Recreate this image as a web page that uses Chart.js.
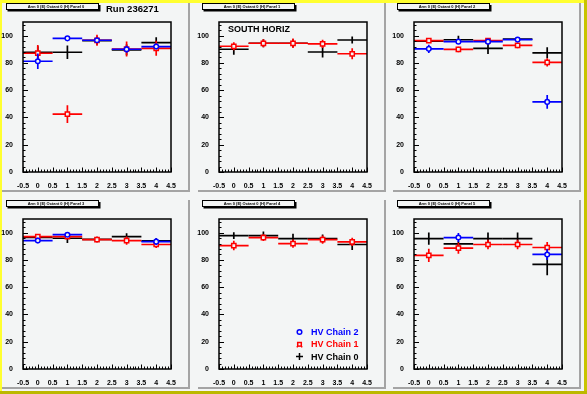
<!DOCTYPE html>
<html>
<head>
<meta charset="utf-8">
<script src="https://cdn.jsdelivr.net/npm/chart.js@4.4.0/dist/chart.umd.min.js"></script>
<style>
  body { margin: 0; background: #f3f5f5; }
  #frame { position: relative; width: 587px; height: 394px; background: #f3f5f5; overflow: hidden; }
  .strip { position: absolute; }
  .pad { position: absolute; box-sizing: content-box; width: 186px; height: 187px;
         border-right: 2px solid #a4a4a4; border-bottom: 2px solid #a4a4a4; background: #f3f5f5; }
  canvas { position: absolute; }
</style>
</head>
<body>
<div id="frame">
  <div class="strip" style="left:0;top:0;width:587px;height:3px;background:#ffff30"></div>
  <div class="strip" style="left:0;top:0;width:2px;height:394px;background:#ffff30"></div>
  <div class="strip" style="left:584px;top:0;width:3px;height:394px;background:#c8c400"></div>
  <div class="strip" style="left:0;top:391px;width:587px;height:3px;background:#bcb800"></div>
</div>
<script>
// bins and axis ticks
const binCenters = [0, 1, 2, 3, 4];
const xRange = [-0.5, 4.5];
const yRange = [0, 110];
const xTickStep = 0.5;
const yTickStep = 20;

const panelTitles = [
  'Arm 0 (E) Octant 0 (H) Panel 0',
  'Arm 0 (E) Octant 0 (H) Panel 1',
  'Arm 0 (E) Octant 0 (H) Panel 2',
  'Arm 0 (E) Octant 0 (H) Panel 3',
  'Arm 0 (E) Octant 0 (H) Panel 4',
  'Arm 0 (E) Octant 0 (H) Panel 5'
];
const runLabel = 'Run 236271';
const sideLabel = 'SOUTH HORIZ';
const seriesNames = ['HV Chain 2', 'HV Chain 1', 'HV Chain 0'];

// one row per panel, one value per bin (null = no point)
const chain0Values = [
  [87.8, 87.8, 96.3, 89.6, 94.9],
  [90.0, 94.4, 94.4, 88.0, 96.8],
  [95.9, 97.0, 90.6, 97.4, 87.4],
  [96.5, 95.9, 95.0, 97.1, 93.9],
  [97.8, 97.8, 95.6, 95.6, 91.3],
  [95.6, 91.7, 95.6, 95.6, 76.7]
];
const chain0Errors = [
  [4.5, 5.0, 3.0, 4.0, 4.0],
  [4.0, 3.0, 3.0, 4.0, 2.5],
  [1.0, 3.0, 4.0, 1.5, 4.0],
  [2.5, 3.5, 2.0, 2.5, 2.0],
  [2.5, 3.0, 3.5, 3.0, 4.0],
  [4.5, 2.0, 4.5, 4.5, 8.0]
];
const chain1Values = [
  [87.1, 42.4, 96.6, 90.2, 90.7],
  [92.2, 94.4, 94.4, 94.0, 86.7],
  [96.4, 89.9, 96.4, 92.8, 80.4],
  [97.1, 97.1, 94.9, 94.2, 91.3],
  [90.5, 96.4, 92.0, 94.9, 93.2],
  [83.3, 88.6, 91.3, 91.3, 89.1]
];
const chain1Errors = [
  [6.0, 6.5, 4.0, 5.5, 5.5],
  [3.0, 3.0, 3.5, 3.0, 4.0],
  [1.5, 2.0, 1.5, 2.0, 3.0],
  [1.5, 1.5, 2.0, 3.0, 2.5],
  [3.5, 2.5, 3.0, 3.0, 3.0],
  [4.8, 4.0, 3.5, 3.5, 4.0]
];
const chain2Values = [
  [81.2, 98.0, 96.6, 90.0, 92.0],
  [null, null, null, null, null],
  [90.3, 95.6, 95.6, 97.1, 51.4],
  [94.2, 98.5, null, null, 93.4],
  [null, null, null, null, null],
  [null, 96.4, null, null, 84.0]
];
const chain2Errors = [
  [5.7, 1.5, 1.5, 2.5, 2.0],
  [0, 0, 0, 0, 0],
  [3.0, 1.5, 2.0, 1.0, 5.0],
  [2.0, 1.0, 0, 0, 2.5],
  [0, 0, 0, 0, 0],
  [0, 3.3, 0, 0, 4.0]
];

const FONT = '"Liberation Sans", Arial, Helvetica, sans-serif';
const BG = '#f3f5f5';
const colors = ['#0000ff', '#ff0000', '#000000'];

function toPoints(values, errors) {
  return binCenters
    .map((x, i) => ({ x: x, y: values[i], err: errors[i] }))
    .filter(p => p.y !== null);
}

// horizontal bin width + vertical error, drawn under each dataset's markers
const errorBars = {
  id: 'errorBars',
  beforeDatasetDraw(chart, args) {
    const ds = chart.data.datasets[args.index];
    const { ctx, chartArea, scales: { x, y } } = chart;
    ctx.save();
    ctx.beginPath();
    ctx.rect(chartArea.left, chartArea.top, chartArea.width, chartArea.height);
    ctx.clip();
    ctx.strokeStyle = ds.borderColor;
    ctx.lineWidth = 1.7;
    ds.data.forEach(p => {
      const px = x.getPixelForValue(p.x);
      const py = y.getPixelForValue(p.y);
      ctx.beginPath();
      ctx.moveTo(x.getPixelForValue(p.x - 0.5), py);
      ctx.lineTo(x.getPixelForValue(p.x + 0.5), py);
      if (p.err > 0) {
        ctx.moveTo(px, y.getPixelForValue(p.y - p.err));
        ctx.lineTo(px, y.getPixelForValue(p.y + p.err));
      }
      ctx.stroke();
    });
    ctx.restore();
  }
};

// ROOT style frame with inward ticks, title box, extra labels and legend
const padDecor = {
  id: 'padDecor',
  afterDraw(chart, args, opts) {
    const { ctx, chartArea: a, scales: { x, y } } = chart;
    ctx.save();
    ctx.strokeStyle = '#000';
    ctx.lineWidth = 1.5;
    ctx.strokeRect(a.left, a.top, a.width, a.height);

    ctx.lineWidth = 1;
    ctx.beginPath();
    for (let i = 0; i <= 27; i++) {
      const py = Math.round(y.getPixelForValue(i * 4)) + 0.5;
      const len = i % 5 === 0 ? 5 : 2.5;
      ctx.moveTo(a.left, py);
      ctx.lineTo(a.left + len, py);
    }
    for (let i = 0; i <= 50; i++) {
      const px = Math.round(x.getPixelForValue(xRange[0] + i * 0.1)) + 0.5;
      const len = i % 5 === 0 ? 4.5 : 2.5;
      ctx.moveTo(px, a.bottom);
      ctx.lineTo(px, a.bottom - len);
    }
    ctx.stroke();

    // title box with shadow
    ctx.fillStyle = '#000';
    ctx.fillRect(7.5, 5, 93, 6.5);
    ctx.fillStyle = BG;
    ctx.fillRect(6, 3.5, 93, 6.5);
    ctx.lineWidth = 1;
    ctx.strokeRect(6.5, 3.5, 92, 6);
    ctx.fillStyle = '#000';
    ctx.font = 'bold 4px ' + FONT;
    ctx.textAlign = 'center';
    ctx.textBaseline = 'middle';
    ctx.fillText(opts.title, 56, 7);

    ctx.textAlign = 'left';
    ctx.textBaseline = 'alphabetic';
    if (opts.run) {
      ctx.font = 'bold 9.5px ' + FONT;
      ctx.fillText(opts.run, 106, 12);
    }
    if (opts.label) {
      ctx.font = 'bold 9px ' + FONT;
      ctx.fillText(opts.label, 32, 32);
    }
    if (opts.legend) {
      ctx.font = 'bold 9px ' + FONT;
      ctx.textBaseline = 'middle';
      chart.data.datasets.forEach((ds, i) => {
        const ly = 135 + i * 12.3;
        const mx = 103.5;
        ctx.strokeStyle = ds.borderColor;
        ctx.lineWidth = 1.5;
        if (ds.pointStyle === 'circle') {
          ctx.beginPath();
          ctx.arc(mx, ly, 2.3, 0, Math.PI * 2);
          ctx.stroke();
        } else if (ds.pointStyle === 'rect') {
          ctx.strokeRect(mx - 1.8, ly - 1.8, 3.6, 3.6);
          ctx.beginPath();
          ctx.moveTo(mx - 1.8, ly + 1.8); ctx.lineTo(mx - 2.6, ly + 3);
          ctx.moveTo(mx + 1.8, ly + 1.8); ctx.lineTo(mx + 2.6, ly + 3);
          ctx.stroke();
        } else {
          ctx.beginPath();
          ctx.moveTo(mx - 3.5, ly); ctx.lineTo(mx + 3.5, ly);
          ctx.moveTo(mx, ly - 3.5); ctx.lineTo(mx, ly + 3.5);
          ctx.stroke();
        }
        ctx.fillStyle = ds.borderColor;
        ctx.fillText(ds.label, 115, ly + 0.5);
      });
    }
    ctx.restore();
  }
};

const frame = document.getElementById('frame');
const tickFont = { family: FONT, size: 7, weight: 'bold' };

for (let p = 0; p < 6; p++) {
  const col = p % 3, row = Math.floor(p / 3);

  const pad = document.createElement('div');
  pad.className = 'pad';
  pad.style.left = Math.round(2 + col * 195.67) + 'px';
  pad.style.top = (3 + row * 197) + 'px';
  frame.appendChild(pad);

  const cv = document.createElement('canvas');
  cv.width = 196; cv.height = 197;
  cv.style.left = Math.round(col * 195.67) + 'px';
  cv.style.top = (row * 197) + 'px';
  frame.appendChild(cv);

  new Chart(cv.getContext('2d'), {
    type: 'scatter',
    data: {
      datasets: [
        { label: seriesNames[0], data: toPoints(chain2Values[p], chain2Errors[p]),
          borderColor: colors[0], backgroundColor: BG, pointStyle: 'circle',
          pointRadius: 2.3, pointBorderWidth: 1.5, pointBackgroundColor: BG },
        { label: seriesNames[1], data: toPoints(chain1Values[p], chain1Errors[p]),
          borderColor: colors[1], backgroundColor: BG, pointStyle: 'rect',
          pointRadius: 3, pointBorderWidth: 1.5, pointBackgroundColor: BG },
        { label: seriesNames[2], data: toPoints(chain0Values[p], chain0Errors[p]),
          borderColor: colors[2], backgroundColor: colors[2], pointStyle: 'cross',
          pointRadius: 0 }
      ]
    },
    options: {
      responsive: false,
      animation: false,
      layout: { padding: { top: 22, right: 25, bottom: 0, left: 0 } },
      plugins: {
        legend: { display: false },
        tooltip: { enabled: false },
        padDecor: {
          title: panelTitles[p],
          run: p === 0 ? runLabel : null,
          label: p === 1 ? sideLabel : null,
          legend: p === 4
        }
      },
      scales: {
        x: {
          type: 'linear', min: xRange[0], max: xRange[1],
          grid: { display: false }, border: { display: false },
          ticks: { stepSize: xTickStep, font: tickFont, color: '#000', padding: 2,
                   maxRotation: 0, autoSkip: false, includeBounds: false,
                   callback: v => String(Math.round(v * 10) / 10) },
          afterFit(s) { s.height = 25; }
        },
        y: {
          min: yRange[0], max: yRange[1],
          grid: { display: false }, border: { display: false },
          ticks: { stepSize: yTickStep, font: tickFont, color: '#000', padding: 2,
                   includeBounds: false },
          afterFit(s) { s.width = 23; }
        }
      }
    },
    plugins: [errorBars, padDecor]
  });
}
</script>
</body>
</html>
